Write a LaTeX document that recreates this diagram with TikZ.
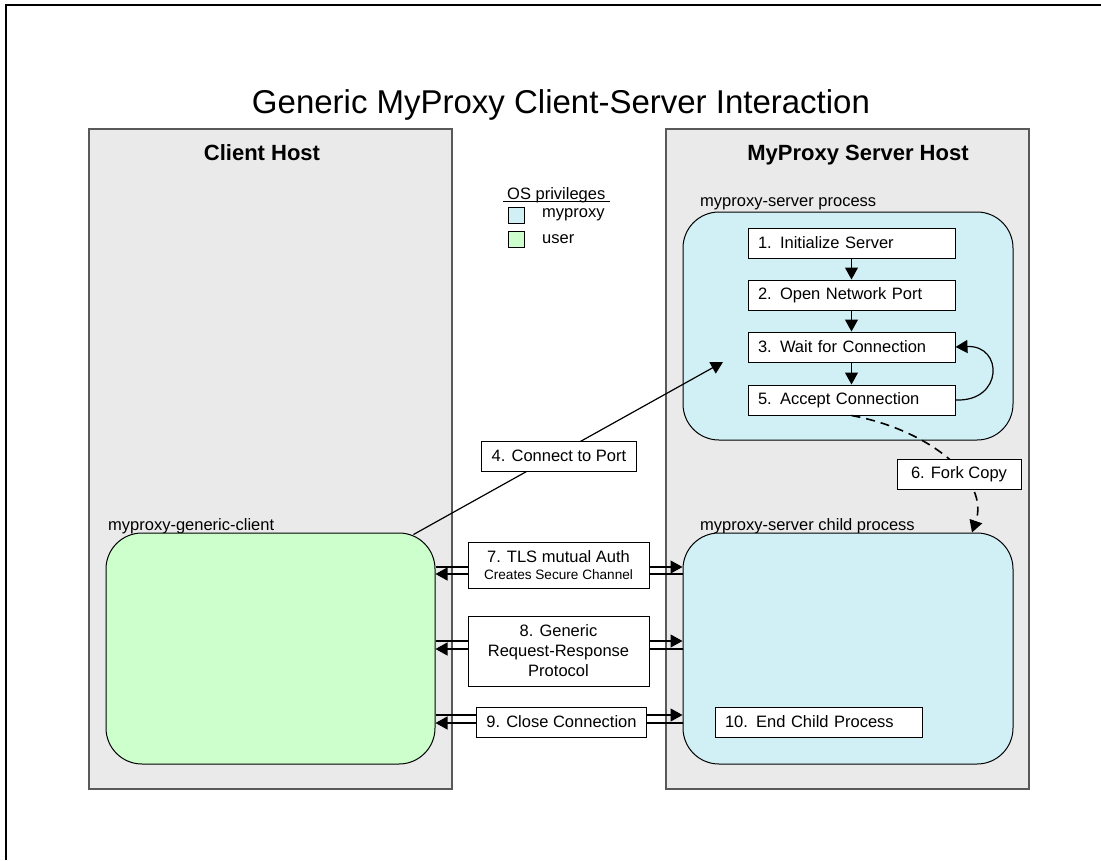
\documentclass[tikz,border=0pt]{standalone}
\usepackage{fontspec}
\setmainfont{Liberation Sans}
\usetikzlibrary{arrows.meta}
\definecolor{hostgray}{RGB}{234,234,234}
\definecolor{mpblue}{RGB}{208,240,245}
\definecolor{usergreen}{RGB}{204,255,204}

\begin{document}
\begin{tikzpicture}[x=1pt, y=-1pt,
    host/.style={draw=black!65, fill=hostgray, line width=1.2pt, minimum width=363pt, minimum height=660pt},
    proc/.style={draw, line width=1pt, rounded corners=36pt, minimum width=330pt, minimum height=230pt},
    stepbox/.style={draw, fill=white, line width=1pt, text width=187pt, inner xsep=10pt, minimum height=30pt, align=left, font=\fontsize{16.5}{20}\selectfont},
    msg/.style={draw, fill=white, line width=1pt, inner xsep=10pt, minimum height=30pt, align=center, font=\fontsize{16.5}{20}\selectfont},
    lbl/.style={inner sep=0pt, font=\fontsize{16.5}{20}\selectfont},
    arr/.style={-{Triangle[length=12pt,width=13pt]}, line width=1.2pt}
]
\useasboundingbox (0,0) rectangle (1101,860);
\draw[line width=1.5pt] (1101,5) -- (6,5) -- (6,860);

\node[anchor=base, font=\fontsize{33}{40}\selectfont] (title) at (561,113) {Generic MyProxy Client-Server Interaction};

\node[host] (chost) at (270.5,459) {};
\node[host] (shost) at (847.5,459) {};
\node[anchor=base, font=\bfseries\fontsize{22}{26}\selectfont] (chostl) at (262,160) {Client Host};
\node[anchor=base, font=\bfseries\fontsize{22}{26}\selectfont] (shostl) at (858,160) {MyProxy Server Host};

\node[lbl, anchor=base west] (legt) at (507,199) {OS privileges};
\draw[line width=1pt] ([xshift=-4pt,yshift=-2pt]legt.base west) -- ([xshift=4pt,yshift=-2pt]legt.base east);
\node[draw, fill=mpblue, minimum size=16pt, inner sep=0pt] (legmp) at (516.5,215) {};
\node[lbl, anchor=west] (legmpt) at (542,215) {myproxy};
\node[draw, fill=usergreen, minimum size=16pt, inner sep=0pt] (legus) at (516.5,239) {};
\node[lbl, anchor=west] (legust) at (542,239) {user};

\node[lbl, anchor=base west] (srvl) at (700,206) {myproxy-server process};
\node[proc, fill=mpblue, minimum height=228pt] (srv) at (848,326) {};
\node[stepbox] (s1) at (851.5,243) {1. Initialize Server};
\node[stepbox] (s2) at (851.5,295) {2. Open Network Port};
\node[stepbox] (s3) at (851.5,347) {3. Wait for Connection};
\node[stepbox] (s5) at (851.5,400) {5. Accept Connection};
\draw[arr] (s1) -- (s2);
\draw[arr] (s2) -- (s3);
\draw[arr] (s3) -- (s5);
\draw[arr] (s5.east) .. controls +(48,2) and +(48,-2) .. (s3.east);

\node[lbl, anchor=base west] (gcll) at (108,530) {myproxy-generic-client};
\node[proc, fill=usergreen, minimum width=329pt, minimum height=231pt] (gcl) at (270.5,648.5) {};
\node[lbl, anchor=base west] (childl) at (700,530) {myproxy-server child process};
\node[proc, fill=mpblue, minimum height=231pt] (child) at (848,648.5) {};
\node[stepbox] (s10) at (818.5,722) {10. End Child Process};

\coordinate (cport) at (723,362);
\draw[arr] ([xshift=-22pt,yshift=-2pt]gcl.north east) -- (cport);
\node[msg] (m4) at (559,456) {4. Connect to Port};

\draw[arr, line width=1.6pt, dash pattern=on 9pt off 6pt] (s5.south) .. controls (930,430) and (990,480) .. ([xshift=124pt]child.north);
\node[msg, minimum width=124pt] (m6) at (959,474.5) {6. Fork Copy};

\draw[arr] (gcl.east |- 0,567) -- (child.west |- 0,567);
\draw[arr] (child.west |- 0,574) -- (gcl.east |- 0,574);
\node[msg, minimum width=181pt, minimum height=46pt] (m7) at (558.5,565) {7. TLS mutual Auth\\[-3pt]{\fontsize{13.6}{16}\selectfont Creates Secure Channel}};

\draw[arr] (gcl.east |- 0,641) -- (child.west |- 0,641);
\draw[arr] (child.west |- 0,649) -- (gcl.east |- 0,649);
\node[msg, minimum width=181pt, minimum height=70pt] (m8) at (558.5,651) {8. Generic\\Request-Response\\Protocol};

\draw[arr] (gcl.east |- 0,715) -- (child.west |- 0,715);
\draw[arr] (child.west |- 0,723) -- (gcl.east |- 0,723);
\node[msg] (m9) at (561.5,722) {9. Close Connection};
\end{tikzpicture}
\end{document}
